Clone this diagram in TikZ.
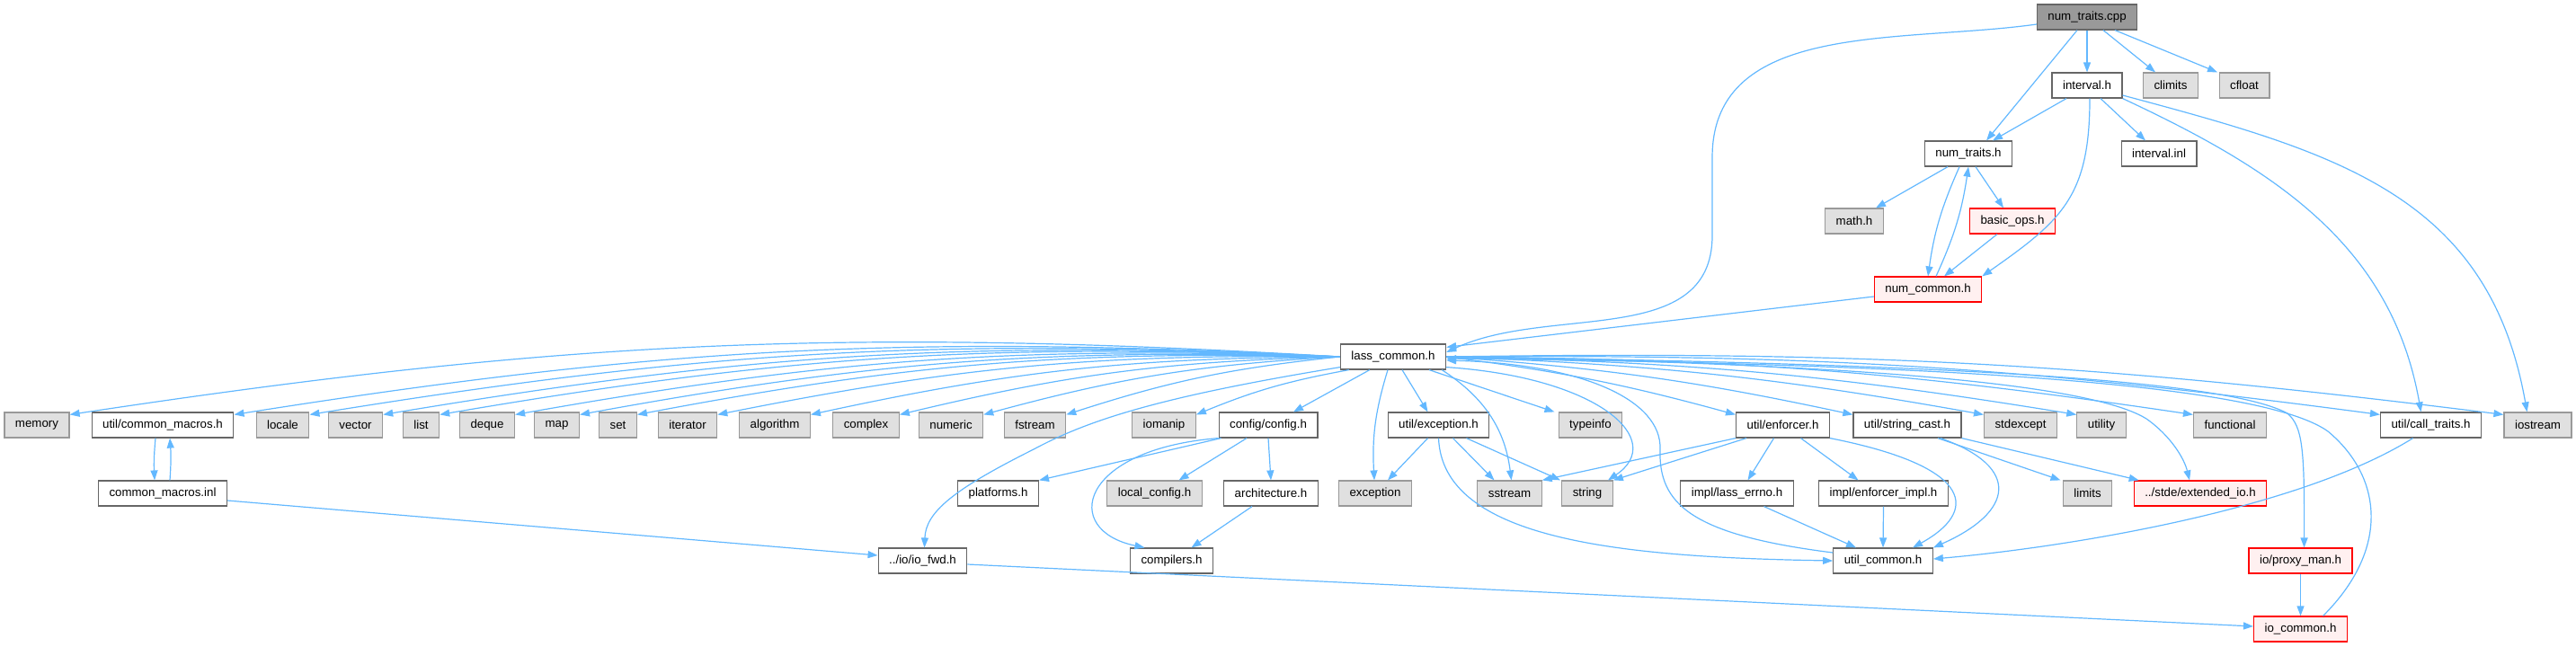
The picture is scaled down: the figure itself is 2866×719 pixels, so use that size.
\documentclass[tikz,border=0pt]{standalone}
\usepackage{fontspec}
\setmainfont{Liberation Sans}
\usepackage{tikz}
\usetikzlibrary{arrows.meta}
\usepackage{xcolor}
\definecolor{ColEdge}{RGB}{99,184,255}
\definecolor{ColLine}{RGB}{102,102,102}
\definecolor{ColSys}{RGB}{224,224,224}
\definecolor{ColSysLine}{RGB}{153,153,153}
\definecolor{ColRed}{RGB}{255,240,240}
\definecolor{ColRoot}{RGB}{153,153,153}
\tikzstyle{NodeFile}=[rectangle,draw=ColLine,fill=white,line width=0.3pt,minimum height=7pt,
inner xsep=3pt,inner ysep=0pt,font=\fontsize{3.325}{4}\selectfont]
\tikzstyle{NodeSys}=[NodeFile,draw=ColSysLine,fill=ColSys]
\tikzstyle{NodeRed}=[NodeFile,draw=red,fill=ColRed]
\tikzstyle{NodeRoot}=[NodeFile,draw=ColLine,fill=ColRoot]
\tikzstyle{EdgeInc}=[ColEdge,line width=0.3pt,-{Triangle[length=2.75pt,width=2pt]}]

\begin{document}
\begin{tikzpicture}[x=0.25pt,y=-0.25pt]
        \useasboundingbox (0,0) rectangle (2866,719);
        \node[NodeRoot](cpp)at(2322,19){num\_traits.cpp};
        \node[NodeFile](interval)at(2322,95){interval.h};
        \node[NodeSys](climits)at(2415,95){climits};
        \node[NodeSys](cfloat)at(2497,95){cfloat};
        \node[NodeFile](numtraits)at(2190,171){num\_traits.h};
        \node[NodeFile](intervalinl)at(2402,171){interval.inl};
        \node[NodeSys](mathh)at(2063,246){math.h};
        \node[NodeRed](basicops)at(2239,246){basic\_ops.h};
        \node[NodeRed](numcommon)at(2145,322){num\_common.h};
        \node[NodeFile](lass)at(1550,397){lass\_common.h};
        % row of headers
        \node[NodeSys](memory)at(41,473){memory};
        \node[NodeFile](cmacros)at(181,473){util/common\_macros.h};
        \node[NodeSys](locale)at(314.5,473){locale};
        \node[NodeSys](vector)at(395.5,473){vector};
        \node[NodeSys](list)at(468.5,473){list};
        \node[NodeSys](deque)at(542,473){deque};
        \node[NodeSys](map)at(619.5,473){map};
        \node[NodeSys](set)at(687.5,473){set};
        \node[NodeSys](iterator)at(765,473){iterator};
        \node[NodeSys](algorithm)at(862,473){algorithm};
        \node[NodeSys](complex)at(963.5,473){complex};
        \node[NodeSys](numeric)at(1058,473){numeric};
        \node[NodeSys](fstream)at(1151.5,473){fstream};
        \node[NodeSys](iomanip)at(1295,473){iomanip};
        \node[NodeFile](config)at(1411,473){config/config.h};
        \node[NodeFile](utilexc)at(1600.5,473){util/exception.h};
        \node[NodeSys](typeinfo)at(1769.5,473){typeinfo};
        \node[NodeFile](enforcer)at(1983.5,473){util/enforcer.h};
        \node[NodeFile](strcast)at(2122,473){util/string\_cast.h};
        \node[NodeSys](stdexcept)at(2248,473){stdexcept};
        \node[NodeSys](utility)at(2338,473){utility};
        \node[NodeSys](functional)at(2481,473){functional};
        \node[NodeFile](calltraits)at(2704.5,473){util/call\_traits.h};
        \node[NodeSys](iostream)at(2823.5,473){iostream};
        % second row
        \node[NodeFile](cmacrosinl)at(181,549){common\_macros.inl};
        \node[NodeFile](platforms)at(1110.5,549){platforms.h};
        \node[NodeSys](localconfig)at(1284.5,549){local\_config.h};
        \node[NodeFile](arch)at(1414,549){architecture.h};
        \node[NodeSys](exception)at(1530,549){exception};
        \node[NodeSys](sstream)at(1679.5,549){sstream};
        \node[NodeSys](string)at(1766,549){string};
        \node[NodeFile](lasserrno)at(1932.5,549){impl/lass\_errno.h};
        \node[NodeFile](enforcerimpl)at(2095.5,549){impl/enforcer\_impl.h};
        \node[NodeSys](limits)at(2322.5,549){limits};
        \node[NodeRed](extio)at(2448,549){../stde/extended\_io.h};
        % bottom rows
        \node[NodeFile](iofwd)at(1026.5,624){../io/io\_fwd.h};
        \node[NodeFile](compilers)at(1303.5,624){compilers.h};
        \node[NodeFile](utilcommon)at(2095,624){util\_common.h};
        \node[NodeRed](proxyman)at(2559.5,624){io/proxy\_man.h};
        \node[NodeRed](iocommon)at(2559.5,700){io\_common.h};
        % top part
        \draw[EdgeInc]([xshift=-2.75pt]cpp.south)--([xshift=5pt]numtraits.north);
        \draw[EdgeInc](cpp.south)--(interval.north);
        \draw[EdgeInc]([xshift=4.5pt]cpp.south)--([xshift=-4.25pt]climits.north);
        \draw[EdgeInc]([xshift=7.75pt]cpp.south)--([xshift=-7.5pt]cfloat.north);
        \draw[EdgeInc]([yshift=-2pt]cpp.west)to[out=188,in=90](1905,175)--(1905,262)
            to[out=-90,in=25]([yshift=1.25pt]lass.east);
        \draw[EdgeInc]([xshift=-5.75pt]interval.south)--([xshift=6.75pt]numtraits.north);
        \draw[EdgeInc]([xshift=3.75pt]interval.south)--([xshift=-3.75pt]intervalinl.north);
        \draw[EdgeInc]([xshift=0.75pt]interval.south)to[out=-90,in=35,looseness=1.2](numcommon.north east);
        \draw[EdgeInc](interval.south east)to[out=-25,in=100]([xshift=-2.75pt]calltraits.north);
        \draw[EdgeInc]([yshift=-2.75pt]interval.east)to[out=-15,in=100,looseness=1.1]([xshift=-3pt]iostream.north);
        \draw[EdgeInc]([xshift=-5.75pt]numtraits.south)--([xshift=6pt]mathh.north);
        \draw[EdgeInc]([xshift=2pt]numtraits.south)--([xshift=-2.5pt]basicops.north);
        \draw[EdgeInc]([xshift=-2.5pt]numtraits.south)to[bend right=8](numcommon.north);
        \draw[EdgeInc]([xshift=2.25pt]numcommon.north)to[bend right=8](numtraits.south);
        \draw[EdgeInc]([xshift=-4.25pt]basicops.south)--([xshift=4.5pt]numcommon.north);
        \draw[EdgeInc]([yshift=-2pt]numcommon.west)--([yshift=-1pt]lass.north east);
        % lass_common.h fan
        \foreach \n in {memory,cmacros,locale,vector,list,deque,map,set,iterator,algorithm,complex,numeric,fstream}
            \draw[EdgeInc](lass.west)to[bend right=6]([yshift=-0.75pt]\n.north east);
        \draw[EdgeInc]([xshift=2.5pt]lass.south west)to[bend right=6]([yshift=-0.75pt]iomanip.north east);
        \draw[EdgeInc]([xshift=8.25pt]lass.south west)--([xshift=7pt]config.north);
        \draw[EdgeInc]([yshift=0.75pt]lass.south west)..controls(1300,440)and(1215,465)..(1150,500)
            ..controls(1060,545)and(1030,570)..([xshift=0.5pt]iofwd.north);
        \draw[EdgeInc]([xshift=-1.5pt]lass.south)to[bend right=10]([xshift=-0.25pt]exception.north);
        \draw[EdgeInc]([xshift=2.5pt]lass.south)--([xshift=-3pt]utilexc.north);
        \draw[EdgeInc]([xshift=-1.25pt]lass.south east)to[bend left=25]([xshift=0.5pt]sstream.north);
        \draw[EdgeInc]([yshift=0.75pt]lass.south east)..controls(1780,420)and(1855,490)..([xshift=5.75pt]string.north);
        \draw[EdgeInc]([xshift=10pt]lass.south)--([xshift=-10pt]typeinfo.north);
        \foreach \n in {enforcer,strcast,stdexcept,utility,functional,calltraits,iostream}
            \draw[EdgeInc](lass.east)to[bend left=4]([yshift=-0.75pt]\n.north west);
        \draw[EdgeInc](lass.east)..controls(2100,405)and(2330,430)..(2388,466)
            ..controls(2415,485)and(2430,510)..([xshift=-3pt]extio.north);
        \draw[EdgeInc](lass.east)..controls(2200,405)and(2480,425)..(2545,460)
            ..controls(2562,475)and(2564,500)..([xshift=1pt]proxyman.north);
        \draw[EdgeInc]([xshift=6.25pt]iocommon.north)..controls(2660,610)and(2650,530)..(2590,480)
            ..controls(2520,430)and(2200,405)..([yshift=-0.5pt]lass.east);
        \draw[EdgeInc]([yshift=2.25pt]utilcommon.west)..controls(1880,595)and(1845,560)..(1847,500)
            ..controls(1849,445)and(1760,405)..([yshift=-1pt]lass.east);
        % common macros
        \draw[EdgeInc]([xshift=-2pt]cmacros.south)to[bend right=4]([xshift=-2.25pt]cmacrosinl.north);
        \draw[EdgeInc]([xshift=2pt]cmacrosinl.north)to[bend right=4]([xshift=2pt]cmacros.south);
        \draw[EdgeInc]([yshift=-2pt]cmacrosinl.east)--([yshift=1.5pt]iofwd.west);
        \draw[EdgeInc]([yshift=-1pt]iofwd.east)--([yshift=0.75pt]iocommon.west);
        % config
        \draw[EdgeInc]([xshift=0.75pt]config.south west)--(platforms.north east);
        \draw[EdgeInc]([xshift=-6pt]config.south)--([xshift=6.75pt]localconfig.north);
        \draw[EdgeInc](config.south)--(arch.north);
        \draw[EdgeInc](config.south west)..controls(1200,500)and(1180,590)..([xshift=-7.5pt]compilers.north);
        \draw[EdgeInc]([xshift=-5.25pt]arch.south)--([xshift=5.5pt]compilers.north);
        % util/exception.h
        \draw[EdgeInc]([xshift=-3pt]utilexc.south)--([xshift=3.5pt]exception.north);
        \draw[EdgeInc]([xshift=4pt]utilexc.south)--([xshift=-4.25pt]sstream.north);
        \draw[EdgeInc]([xshift=7.75pt]utilexc.south)--([xshift=-7.5pt]string.north);
        \draw[EdgeInc](utilexc.south)..controls(1605,600)and(1800,620)..(utilcommon.west);
        % util/enforcer.h
        \draw[EdgeInc](enforcer.south west)--(sstream.north east);
        \draw[EdgeInc]([xshift=3pt]enforcer.south west)--(string.north east);
        \draw[EdgeInc]([xshift=-2.5pt]enforcer.south)--([xshift=3pt]lasserrno.north);
        \draw[EdgeInc]([xshift=5pt]enforcer.south)--([xshift=-7pt]enforcerimpl.north);
        \draw[EdgeInc](enforcer.south east)..controls(2200,520)and(2200,570)..([xshift=8.25pt]utilcommon.north);
        \draw[EdgeInc]([xshift=7.5pt]lasserrno.south)--([xshift=-7.5pt]utilcommon.north);
        \draw[EdgeInc](enforcerimpl.south)--(utilcommon.north);
        % util/string_cast.h
        \draw[EdgeInc]([xshift=9.25pt]strcast.south)..controls(2250,520)and(2240,570)..(utilcommon.north east);
        \draw[EdgeInc]([xshift=8.5pt]strcast.south)--([xshift=-7.5pt]limits.north);
        \draw[EdgeInc](strcast.south east)--([xshift=1.5pt]extio.north west);
        % call traits and io
        \draw[EdgeInc]([xshift=-5pt]calltraits.south)to[out=212,in=5,looseness=0.7]([yshift=0.5pt]utilcommon.east);
        \draw[EdgeInc](proxyman.south)--(iocommon.north);
    \end{tikzpicture}
\end{document}
